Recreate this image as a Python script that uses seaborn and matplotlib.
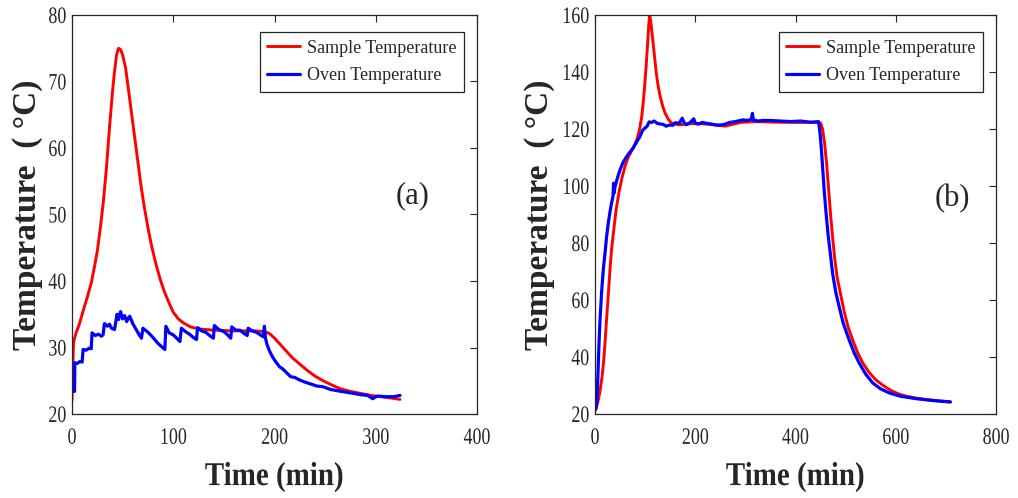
import numpy as np
import pandas as pd
import seaborn as sns
import matplotlib
matplotlib.use("Agg")
import matplotlib.pyplot as plt
import matplotlib.patheffects as pe
from matplotlib.transforms import Affine2D
from matplotlib.path import Path

# ---------------- data ----------------
a_sample_t = [0, 0.8, 1.5, 4, 7, 11, 15, 19, 22, 25, 28, 31, 34, 37, 40, 42, 44, 46, 48, 50,
              53, 56, 59, 62, 65, 68, 71, 75, 79, 83, 87, 91, 95, 100, 105, 110, 117, 125, 140,
              160, 180, 190, 195, 200, 206, 212, 218, 225, 232, 240, 248, 256, 265, 275, 285,
              295, 305, 315, 324]
a_sample_T = [22.0, 27, 30.8, 32.2, 33.4, 35.5, 37.5, 39.7, 42, 44.5, 48, 52, 57, 63, 68.5, 71.5,
              74, 75, 74.8, 74, 72, 68.5, 65, 61.5, 58, 54.5, 51.5, 48, 45, 42.5, 40.3, 38.5, 37,
              35.3, 34.3, 33.7, 33.1, 32.8, 32.6, 32.5, 32.5, 32.4, 32.1, 31.4, 30.4, 29.4, 28.4,
              27.5, 26.6, 25.7, 25.0, 24.4, 23.8, 23.4, 23.1, 22.8, 22.6, 22.4, 22.2]

a_oven_t = [0, 2.5, 2.8, 5, 8, 10, 11, 14, 17, 19, 19.8, 23, 26, 29, 30.7, 32, 35, 37, 39, 42,
            44.5, 46, 48, 50, 52, 54, 56, 57, 60, 63, 66, 68.6, 70, 75, 80, 85, 91.7, 92.7, 96,
            100, 104, 106.6, 108, 112, 116, 120, 123, 124, 128, 132, 136, 139.6, 140.6, 145, 150,
            153, 156.8, 157.8, 162, 166, 170, 173, 174, 178, 182, 186, 189, 190, 191, 192.5, 195,
            198, 201, 205, 208, 212, 216, 220, 225, 230, 236, 242, 248, 255, 262, 270, 278, 285,
            292, 297, 299, 302, 310, 318, 324]
a_oven_T = [23.4, 23.4, 27.7, 27.6, 27.9, 27.8, 29.7, 29.6, 29.9, 29.8, 32.2, 31.8, 32.0, 31.7,
            31.9, 33.6, 33.2, 33.5, 32.9, 32.7, 35.0, 34.2, 35.4, 34.3, 34.8, 33.9, 34.5, 34.7,
            33.6, 32.8, 32.0, 31.4, 32.9, 32.3, 31.5, 30.6, 29.7, 33.2, 32.2, 31.9, 31.3, 30.9,
            32.9, 32.4, 32.0, 31.5, 31.2, 33.0, 32.5, 32.3, 31.8, 31.4, 33.3, 32.7, 32.4, 32.0,
            31.4, 33.1, 32.6, 32.6, 32.1, 31.8, 32.9, 32.5, 32.3, 31.9, 31.6, 33.2, 31.5, 30.5,
            29.5, 28.6, 27.9, 27.1, 26.8, 26.2, 25.6, 25.5, 25.1, 24.8, 24.5, 24.2, 24.1, 23.7,
            23.5, 23.3, 23.1, 22.9, 22.8, 22.3, 22.5, 22.7, 22.6, 22.6, 22.8]

b_sample_t = [0, 3, 6, 10, 14, 17, 20, 23, 27, 30, 33, 37, 42, 48, 54, 60, 66, 72, 78, 84, 89, 93,
              96, 99, 102, 105, 107, 109, 111, 113, 116, 119, 122, 126, 130, 135, 140, 146, 152,
              160, 170, 200, 230, 260, 290, 320, 360, 400, 440, 450, 454, 458, 462, 466, 470, 474,
              478, 483, 490, 497, 505, 514, 524, 534, 546, 560, 575, 590, 605, 620, 640, 660, 685,
              709]
b_sample_T = [21, 22.5, 24.5, 28, 33, 38, 45, 53, 63, 71, 77.6, 84, 91.5, 98, 103, 107, 110, 112,
              114, 116.5, 120, 124, 129, 135, 142, 150, 156, 160, 158, 155, 150, 145, 140, 135,
              131.5, 128, 125.5, 123.5, 122.2, 121.7, 121.5, 122, 121.6, 121.0, 122.3, 122.6,
              122.4, 122.3, 122.3, 122.1, 120, 115, 108, 99, 90, 82, 75, 68, 62, 56, 50.5, 46,
              41.5, 38, 34.8, 32, 30, 28.3, 27.1, 26.3, 25.6, 25.1, 24.6, 24.3]

b_oven_t = [0, 2, 4, 5.5, 7, 8.5, 10, 12, 13, 15, 17, 20, 23, 26.5, 30, 33, 36, 37, 38, 40, 45, 50,
            56, 63, 70, 76, 80, 85, 89.5, 95, 99.5, 104, 108, 112.7, 118, 124, 129, 136, 142, 149,
            155, 160, 168, 174, 177, 182, 190, 197, 200, 206, 214, 222, 230, 242, 250, 258, 268.6,
            280, 295, 305, 312, 314, 316, 325, 335, 348, 370, 390, 410, 430, 446, 449, 452, 454,
            457, 461, 465, 470, 474, 480, 487, 495, 507, 517, 527, 540, 554, 570, 587, 610, 640,
            670, 690, 709]
b_oven_T = [21.5, 22, 25, 32, 40, 47, 53, 59, 62.4, 67, 71.5, 76.5, 82, 87, 91, 94, 96.5, 101,
            97.5, 99.8, 103, 105.7, 108.3, 110.3, 112, 113.3, 114.5, 116, 117.3, 119.5, 120.3, 121,
            122.5, 122.3, 122.8, 122, 121.8, 121.6, 121, 121.4, 121.3, 122.2, 122.0, 123.8, 122.5,
            121.5, 122.3, 123.6, 122, 121.7, 122.3, 122.0, 121.8, 121.4, 121.4, 121.6, 122.3,
            122.6, 123.2, 123.0, 123.5, 125.5, 123.2, 122.8, 123, 123, 122.8, 122.6, 122.8, 122.4,
            122.6, 118.5, 112, 106.8, 99, 90.5, 83, 75.5, 69.4, 63, 57.7, 52, 46, 41.5, 37.9, 34,
            30.9, 28.8, 27.4, 26.2, 25.4, 24.8, 24.5, 24.2]

series_labels = ["Sample Temperature", "Oven Temperature"]
a_xticks = [0, 100, 200, 300, 400]
a_yticks = [20, 30, 40, 50, 60, 70, 80]
b_xticks = [0, 200, 400, 600, 800]
b_yticks = [20, 40, 60, 80, 100, 120, 140, 160]
panel_tags = ["(a)", "(b)"]
xlabel_text = "Time (min)"
ylabel_text = "Temperature  ( °C)"


# ---------------- condensed-text path effect ----------------
class Condense(pe.AbstractPathEffect):
    def __init__(self, sx=0.8, anchor="center"):
        super().__init__((0, 0))
        self.sx = sx
        self.anchor = anchor

    def draw_path(self, renderer, gc, tpath, affine, rgbFace=None):
        v = tpath.vertices
        codes = tpath.codes
        vv = v[codes != Path.CLOSEPOLY] if codes is not None else v
        if len(vv) == 0:
            renderer.draw_path(gc, tpath, affine, rgbFace)
            return
        xmin, xmax = vv[:, 0].min(), vv[:, 0].max()
        c = {"center": (xmin + xmax) / 2, "right": xmax, "left": xmin}[self.anchor]
        t = Affine2D().translate(-c, 0).scale(self.sx, 1).translate(c, 0)
        renderer.draw_path(gc, tpath, t + affine, rgbFace)


sns.set_style("white")
plt.rcParams["font.family"] = ["Liberation Serif", "DejaVu Serif"]

DARK = "#262626"
RED = "#ff0000"
BLUE = "#0000ff"

fig = plt.figure(figsize=(10.18, 4.98), dpi=100)
ax1 = fig.add_axes([72 / 1018, 84 / 498, 405 / 1018, 399 / 498])
ax2 = fig.add_axes([595 / 1018, 84 / 498, 401 / 1018, 399 / 498])

panels = [
    (ax1, a_sample_t, a_sample_T, a_oven_t, a_oven_T, a_xticks, a_yticks, panel_tags[0],
     (0.84, 0.546), -0.072),
    (ax2, b_sample_t, b_sample_T, b_oven_t, b_oven_T, b_xticks, b_yticks, panel_tags[1],
     (0.89, 0.541), -0.100),
]

for ax, st, sT, ot, oT, xt, yt, tag, tagpos, ylx in panels:
    sns.lineplot(x=st, y=sT, ax=ax, color=RED, linewidth=2.1, label=series_labels[0],
                 estimator=None, sort=False)
    sns.lineplot(x=ot, y=oT, ax=ax, color=BLUE, linewidth=2.3, label=series_labels[1],
                 estimator=None, sort=False)
    ax.set_xlim(xt[0], xt[-1])
    ax.set_ylim(yt[0], yt[-1])
    ax.set_xticks(xt)
    ax.set_yticks(yt)
    ax.set_xticklabels([str(v) for v in xt])
    ax.set_yticklabels([str(v) for v in yt])
    ax.tick_params(direction="in", top=True, right=True, length=5, width=0.8,
                   color=DARK, labelcolor=DARK, labelsize=17)
    ax.tick_params(axis="x", pad=10)
    ax.tick_params(axis="y", pad=4)
    for lab in ax.get_xticklabels():
        lab.set_path_effects([Condense(0.76, "center")])
    for lab in ax.get_yticklabels():
        lab.set_path_effects([Condense(0.76, "right")])
    for sp in ax.spines.values():
        sp.set_visible(True)
        sp.set_color(DARK)
        sp.set_linewidth(0.9)
    ax.set_xlabel(xlabel_text, fontsize=24, fontweight="bold", color=DARK,
                  path_effects=[Condense(0.87, "center")])
    ax.xaxis.set_label_coords(0.5, -0.118)
    ax.set_ylabel(ylabel_text, fontsize=24, fontweight="bold", color=DARK)
    ax.yaxis.set_label_coords(ylx, 0.5)
    ax.text(tagpos[0], tagpos[1], tag, transform=ax.transAxes, fontsize=22,
            ha="center", va="center", color=DARK)
    leg = ax.legend(loc="upper right", bbox_to_anchor=(1 - 13 / 405, 1 - 17 / 399),
                    borderaxespad=0, fontsize=13, frameon=True, fancybox=False,
                    framealpha=1, edgecolor=DARK, handlelength=1.8, handletextpad=0.4,
                    labelspacing=0.6, borderpad=0.42)
    leg.get_frame().set_linewidth(0.9)
    for txt in leg.get_texts():
        txt.set_color(DARK)

fig.savefig("out.png", dpi=100)
